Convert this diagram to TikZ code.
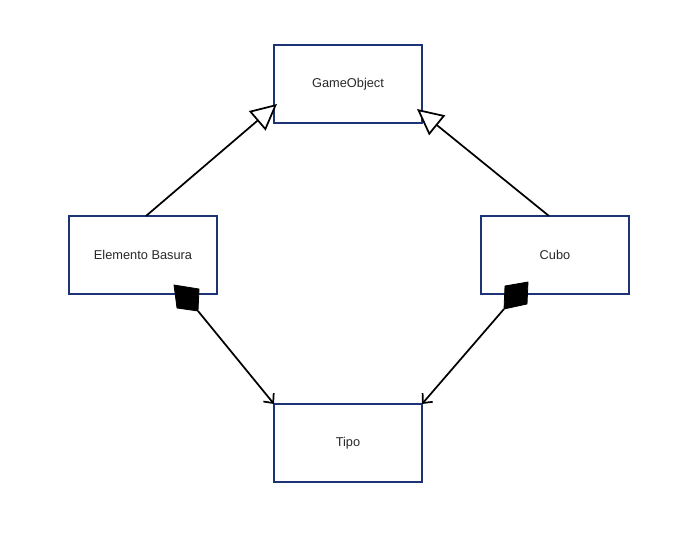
\documentclass[tikz,border=0pt]{standalone}
\usepackage{fontspec}
\setmainfont{Liberation Sans}
\usetikzlibrary{arrows.meta,calc}
\definecolor{boxblue}{RGB}{28,52,118}
\definecolor{txt}{RGB}{40,40,40}
\begin{document}
\begin{tikzpicture}[x=0.75pt,y=-0.75pt,
  cls/.style={draw=boxblue,line width=1.4pt,fill=white,minimum width=111pt,minimum height=58.5pt,inner sep=0pt,outer sep=0pt,font=\fontsize{9.6}{11}\selectfont,text=txt},
  inh/.style={line width=1.3pt,-{Triangle[open,length=19.5pt,width=19pt,fill=white,line width=1.3pt]}},
  comp/.style={line width=1.3pt,-{Straight Barb[length=5.5pt,width=10pt,line width=1.3pt]}},
  dia/.style={fill=black,draw=black,line width=0.6pt,line join=round}]
\useasboundingbox (0,0) rectangle (677,548);
\node[cls] (go) at (348,84) {GameObject};
\node[cls] (eb) at (143,255) {Elemento Basura};
\node[cls] (cu) at (555,255) {Cubo};
\node[cls] (tp) at (348,443) {Tipo};
% inheritance
\draw[inh] ($(eb.north)+(3,0)$) -- ($(go.west)+(3,20)$);
\draw[inh] ($(cu.north)+(-6,0)$) -- ($(go.east)+(-5,25)$);
% composition diamonds
\coordinate (d1a) at ($(eb.south)+(31,-9)$);
\coordinate (d1b) at ($(eb.south)+(56,-5)$);
\coordinate (d1c) at ($(eb.south)+(55,17)$);
\coordinate (d1d) at ($(eb.south)+(34,14)$);
\draw[dia] (d1a) -- (d1b) -- (d1c) -- (d1d) -- cycle;
\draw[comp] (d1c) -- (tp.north west);
\coordinate (d2a) at ($(cu.south)+(-50,-8)$);
\coordinate (d2b) at ($(cu.south)+(-27,-12)$);
\coordinate (d2c) at ($(cu.south)+(-28,10)$);
\coordinate (d2d) at ($(cu.south)+(-51,15)$);
\draw[dia] (d2a) -- (d2b) -- (d2c) -- (d2d) -- cycle;
\draw[comp] (d2d) -- (tp.north east);
\end{tikzpicture}
\end{document}
